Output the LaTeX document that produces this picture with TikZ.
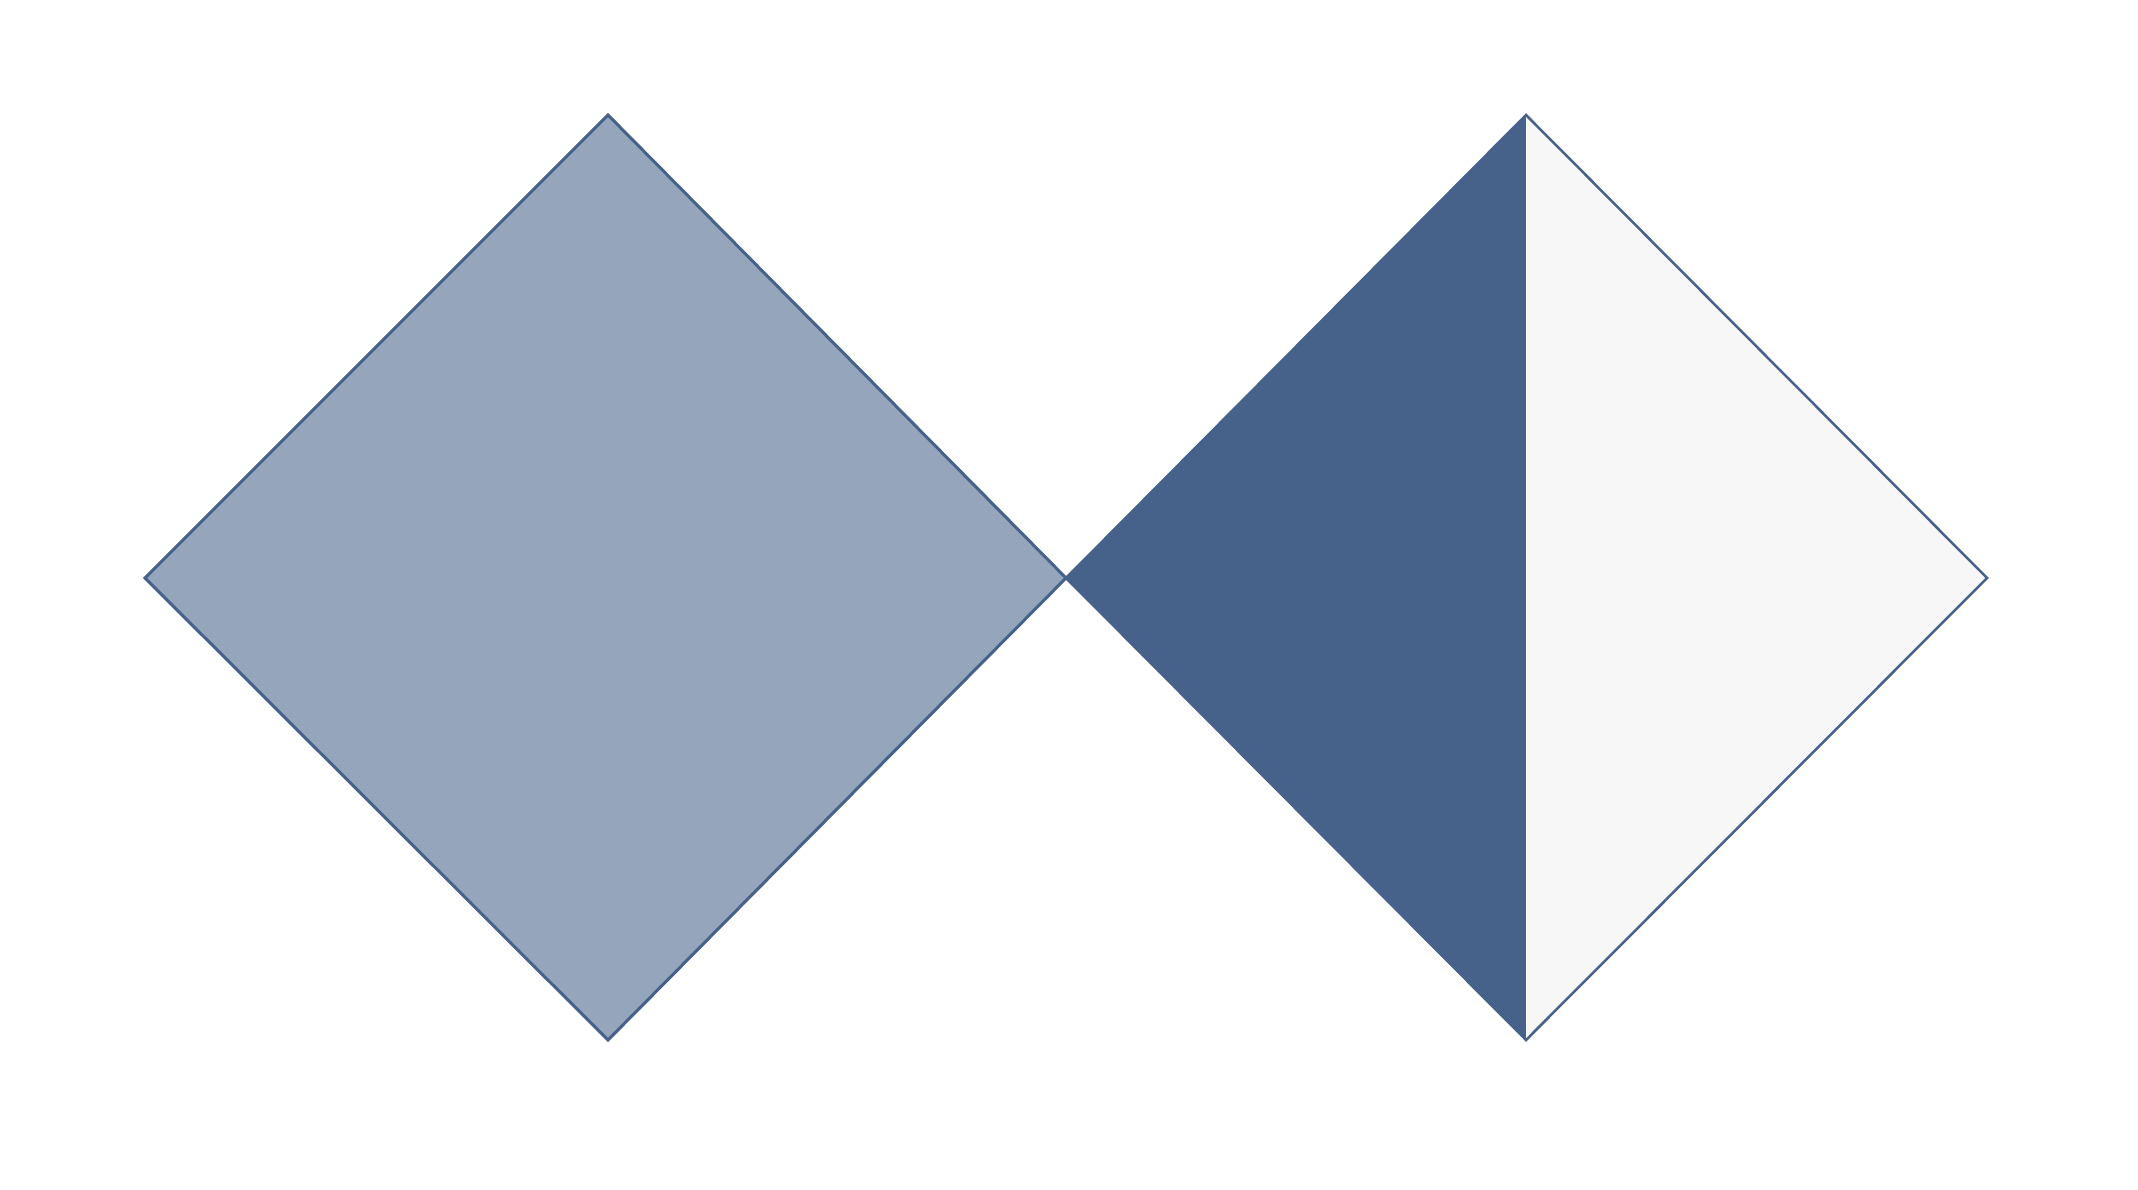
\documentclass[tikz,border=0pt]{standalone}
\definecolor{edgeblue}{HTML}{46618A}
\definecolor{paleblue}{HTML}{95A5BB}
\definecolor{lightgray}{HTML}{F7F7F7}
\begin{document}
\begin{tikzpicture}[x=1pt,y=-1pt,
  outline/.style={draw=edgeblue,line join=miter}]
\useasboundingbox (0,0) rectangle (2138,1190);
% left diamond
\coordinate (LL) at (145,578);
\coordinate (LT) at (608,115);
\coordinate (LR) at (1066,578);
\coordinate (LB) at (608,1040);
\fill[paleblue] (LL) -- (LT) -- (LR) -- (LB) -- cycle;
\draw[outline,line width=3] (LL) -- (LT) -- (LR) -- (LB) -- cycle;
% right diamond
\coordinate (RL) at (1066,578);
\coordinate (RT) at (1526,115);
\coordinate (RR) at (1987,578);
\coordinate (RB) at (1526,1040);
\fill[lightgray] (RT) -- (RR) -- (RB) -- cycle;
\fill[edgeblue] (RL) -- (RT) -- (RB) -- cycle;
\draw[white,line width=1] (RT) -- (RB);
\draw[outline,line width=2.5] (RL) -- (RT) -- (RR) -- (RB) -- cycle;
\end{tikzpicture}
\end{document}
